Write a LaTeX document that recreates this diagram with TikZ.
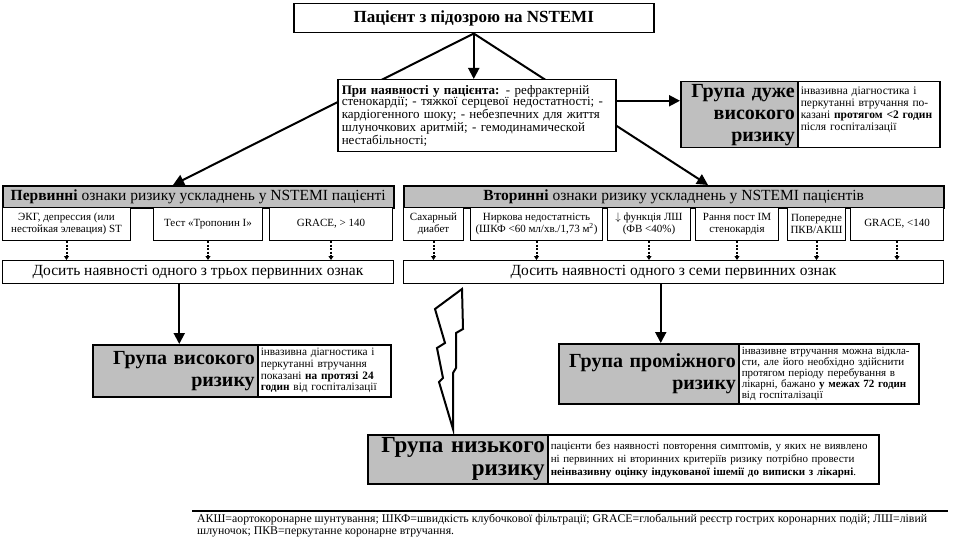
\documentclass[tikz,border=0pt]{standalone}
\usepackage{fontspec}
\setmainfont{Liberation Serif}
\usetikzlibrary{positioning}
\usetikzlibrary{arrows.meta}
\pgfdeclarelayer{background}
\pgfsetlayers{background,main}

\begin{document}
\begin{tikzpicture}[x=1pt,y=-1pt,
	box/.style={draw=black, line width=1.5pt, fill=white, anchor=north west, inner sep=3pt},
	topbox/.style={box, minimum width=360pt, minimum height=29pt, font=\bfseries\fontsize{17}{19}\selectfont},
	condbox/.style={box, inner sep=4pt, text width=270pt, minimum height=72pt, align=left, font=\fontsize{13}{11.6}\selectfont},
	riskbox/.style={box, fill=gray!50, inner ysep=1pt, align=right, font=\bfseries\fontsize{20}{22}\selectfont},
	notebox/.style={box, inner ysep=2pt, align=left, font=\fontsize{11.3}{11.7}\selectfont},
	headbox/.style={box, fill=gray!50, minimum height=22pt, font=\fontsize{15.5}{17}\selectfont},
	signbox/.style={box, line width=1pt, minimum height=33pt, align=center, font=\fontsize{11}{12}\selectfont},
	sumbox/.style={box, line width=1pt, minimum height=23pt, font=\fontsize{15.5}{17}\selectfont},
	arr/.style={line width=2pt, -{Triangle[length=11pt,width=11pt]}},
	dotarr/.style={line width=2pt, dash pattern=on 2pt off 1.5pt, -{Triangle[length=4pt,width=5pt]}},
	]
	\useasboundingbox (0,0) rectangle (960,540);
	%Nodes
	\node[topbox]	(top)	at (293,3)	{Пацієнт з підозрою на NSTEMI};
	\node[condbox]	(cond)	at (337,79)	{\textbf{При наявності у пацієнта:} - рефрактерній\\ стенокардії; - тяжкої серцевої недостатності; -\\ кардіогенного шоку; - небезпечних для життя\\ шлуночкових аритмій; - гемодинамической\\ нестабільності;};
	\node[riskbox, text width=111pt, minimum height=66pt]	(vhigh)	at (680,81)	{Група дуже\\ високого\\ ризику};
	\node[notebox, text width=136pt, minimum height=66pt, font=\fontsize{11.5}{12}\selectfont]	(vhighnote)	at (797,81)	{інвазивна діагностика і\\ перкутанні втручання по-\\ казані \textbf{протягом <2 годин}\\ після госпіталізації\\ ~};
	
	\node[headbox, minimum width=391pt]	(hprim)	at (2,185)	{\textbf{Первинні} ознаки ризику ускладнень у NSTEMI пацієнті};
	\node[headbox, minimum width=540pt]	(hsec)	at (403,185)	{\textbf{Вторинні} ознаки ризику ускладнень у NSTEMI пацієнтів};
	
	\node[signbox, minimum width=128pt]	(p1)	at (2,207)	{ЭКГ, депрессия (или\\ нестойкая элевация) ST};
	\node[signbox, minimum width=109pt]	(p2)	at (153,207)	{Тест «Тропонин І»};
	\node[signbox, minimum width=123pt]	(p3)	at (269,207)	{GRACE, > 140};
	\node[signbox, minimum width=60pt]	(s1)	at (403,207)	{Сахарный\\ диабет};
	\node[signbox, minimum width=132pt]	(s2)	at (470,207)	{Ниркова недостатність\\ (ШКФ <60 мл/хв./1,73 м\textsuperscript{2})};
	\node[signbox, minimum width=83pt]	(s3)	at (607,207)	{$\downarrow$ функція ЛШ\\ (ФВ <40\%)};
	\node[signbox, minimum width=83pt]	(s4)	at (695,207)	{Рання пост ІМ\\ стенокардія};
	\node[signbox, minimum width=56pt]	(s5)	at (787,207)	{Попередне\\ ПКВ/АКШ};
	\node[signbox, minimum width=93pt]	(s6)	at (850,207)	{GRACE, <140};
	
	\node[sumbox, minimum width=391pt]	(sumprim)	at (2,260)	{Досить наявності одного з трьох первинних ознак};
	\node[sumbox, minimum width=540pt]	(sumsec)	at (403,260)	{Досить наявності одного з семи первинних ознак};
	
	\node[riskbox, text width=159pt, minimum height=52pt]	(high)	at (92,344)	{Група високого\\ ризику};
	\node[notebox, text width=127pt, minimum height=52pt]	(highnote)	at (257,344)	{інвазивна діагностика і\\ перкутанні втручання\\ показані \textbf{на протязі 24}\\ \textbf{годин} від госпіталізації};
	\node[riskbox, text width=174pt, minimum height=60pt]	(inter)	at (558,343)	{Група проміжного\\ ризику};
	\node[notebox, text width=174pt, minimum height=60pt, font=\fontsize{11}{11}\selectfont]	(internote)	at (738,343)	{інвазивне втручання можна відкла-\\ сти, але його необхідно здійснити\\ протягом періоду перебування в\\ лікарні, бажано \textbf{у межах 72 годин}\\ від госпіталізації};
	\node[riskbox, text width=174pt, minimum height=49pt, font=\bfseries\fontsize{23}{23}\selectfont]	(low)	at (367,434)	{Група низького\\ ризику};
	\node[notebox, text width=325pt, minimum height=49pt, font=\fontsize{11}{13}\selectfont]	(lownote)	at (547,434)	{пацієнти без наявності повторення симптомів, у яких не виявлено\\ ні первинних ні вторинних критеріїв ризику потрібно провести\\ \textbf{неінвазивну оцінку індукованої ішемії до виписки з лікарні}.};
	
	\node[anchor=north west, inner sep=0pt, align=left, font=\fontsize{11.8}{12}\selectfont]	(abbr)	at (197,514)	{АКШ=аортокоронарне шунтування; ШКФ=швидкість клубочкової фільтрації; GRACE=глобальний реєстр гострих коронарних подій; ЛШ=лівий\\ шлуночок; ПКВ=перкутанне коронарне втручання.};
	
	\coordinate	(pin)	at (173,185);
	\coordinate	(sin)	at (708,185);
	
	\begin{pgfonlayer}{background}
	\draw[arr] (top.south) -- (top.south |- cond.north);
	\draw[arr] (top.south) -- (pin);
	\draw[arr] (top.south) -- (sin);
	\end{pgfonlayer}
	
	\draw[arr] ([yshift=15pt]cond.east) -- ([yshift=15pt]cond.east -| vhigh.west);
	\foreach \s in {p1,p2,p3}
		\draw[dotarr] (\s.south) -- (\s.south |- sumprim.north);
	\foreach \s in {s1,s2,s3,s4,s5,s6}
		\draw[dotarr] (\s.south) -- (\s.south |- sumsec.north);
	\draw[arr] ([xshift=4pt]high.north |- sumprim.south) -- ([xshift=4pt]high.north);
	\draw[arr] ([xshift=12pt]inter.north |- sumsec.south) -- ([xshift=12pt]inter.north);
	
	%Lightning
	\draw[line width=2pt, fill=white] (462,289) -- (435,309) -- (445,343) -- (437,348) -- (443,378) -- (439,382) -- (453,429) -- (453,373) -- (456,368) -- (456,333) -- (463,329) -- cycle;
	
	%Footnote rule
	\draw[line width=2pt] (192,511) -- (948,511);
\end{tikzpicture}
\end{document}
